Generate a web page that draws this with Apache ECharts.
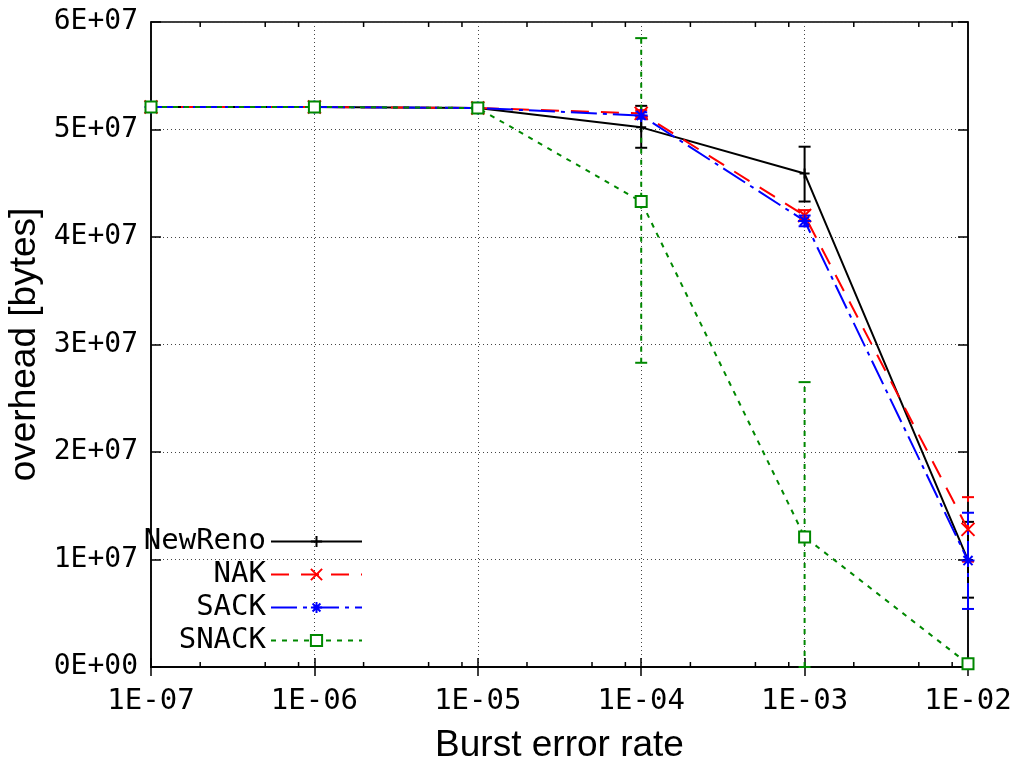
<!DOCTYPE html>
<html>
<head>
<meta charset="utf-8">
<script src="https://cdn.jsdelivr.net/npm/echarts@6/dist/echarts.min.js"></script>
<style>
  html, body { margin: 0; padding: 0; background: #fff; }
  #overhead-chart { width: 1017px; height: 764px; }
</style>
</head>
<body>
<div id="overhead-chart"></div>
<script>
// burst error rates (x, log axis)
const errorRates = [1e-7, 1e-6, 1e-5, 1e-4, 1e-3, 1e-2];
const minorTickRates = [2e-7, 5e-7, 8e-7, 2e-6, 5e-6, 8e-6, 2e-5, 5e-5, 8e-5, 2e-4, 5e-4, 8e-4, 2e-3, 5e-3, 8e-3];
const yTicks = [0, 1e7, 2e7, 3e7, 4e7, 5e7, 6e7];

// overhead [bytes], mean and error bar low/high
const newRenoMean = [5.21e7, 5.21e7, 5.20e7, 5.02e7, 4.59e7, 0.995e7];
const newRenoLow  = [5.20e7, 5.20e7, 5.19e7, 4.83e7, 4.33e7, 0.645e7];
const newRenoHigh = [5.22e7, 5.22e7, 5.21e7, 5.22e7, 4.84e7, 1.35e7];

const nakMean = [5.21e7, 5.21e7, 5.20e7, 5.15e7, 4.20e7, 1.28e7];
const nakLow  = [5.20e7, 5.20e7, 5.19e7, 5.12e7, 4.15e7, 0.98e7];
const nakHigh = [5.22e7, 5.22e7, 5.21e7, 5.18e7, 4.25e7, 1.58e7];

const sackMean = [5.21e7, 5.21e7, 5.20e7, 5.13e7, 4.15e7, 0.99e7];
const sackLow  = [5.20e7, 5.20e7, 5.19e7, 5.10e7, 4.10e7, 0.54e7];
const sackHigh = [5.22e7, 5.22e7, 5.21e7, 5.16e7, 4.20e7, 1.435e7];

const snackMean = [5.21e7, 5.21e7, 5.20e7, 4.33e7, 1.21e7, 0.03e7];
const snackLow  = [5.20e7, 5.20e7, 5.19e7, 2.83e7, 0, 0.01e7];
const snackHigh = [5.22e7, 5.22e7, 5.21e7, 5.85e7, 2.65e7, 0.05e7];

const monoFont = '"DejaVu Sans Mono", monospace';
const sansFont = '"Liberation Sans", Arial, sans-serif';

const seriesDefs = [
  { name: 'NewReno', color: '#000000', dash: 'solid', mean: newRenoMean, low: newRenoLow, high: newRenoHigh,
    symbol: 'path://M5,0L5,10M0,5L10,5', symbolSize: 10, fill: '#000000' },
  { name: 'NAK', color: '#ff0000', dash: [18, 12], mean: nakMean, low: nakLow, high: nakHigh,
    symbol: 'path://M0,0L10,10M10,0L0,10', symbolSize: 13, fill: '#ff0000' },
  { name: 'SACK', color: '#0000ff', dash: [26, 6, 4, 6], mean: sackMean, low: sackLow, high: sackHigh,
    symbol: 'path://M5,0L5,10M0,5L10,5M1.5,1.5L8.5,8.5M8.5,1.5L1.5,8.5', symbolSize: 13, fill: '#0000ff' },
  { name: 'SNACK', color: '#008800', dash: [5, 6], mean: snackMean, low: snackLow, high: snackHigh,
    symbol: 'rect', symbolSize: 11, fill: '#ffffff' },
];

function fmtX(v) {
  const e = -Math.round(Math.log10(v));
  return '1E-' + String(e).padStart(2, '0');
}
function fmtY(v) {
  if (v === 0) return '0E+00';
  return Math.round(v / 1e7) + 'E+07';
}

const myChart = echarts.init(document.getElementById('overhead-chart'));

const series = [];
seriesDefs.forEach((d) => {
  series.push({
    name: d.name + ' err',
    type: 'custom',
    coordinateSystem: 'cartesian2d',
    silent: true,
    z: 2,
    data: errorRates.map((x, i) => [x, d.low[i], d.high[i]]),
    encode: { x: 0, y: [1, 2] },
    renderItem: (params, api) => {
      const x = api.value(0);
      const lo = api.coord([x, api.value(1)]);
      const hi = api.coord([x, api.value(2)]);
      const style = { stroke: d.color, lineWidth: 2, fill: null };
      const barStyle = { stroke: d.color, lineWidth: 2, fill: null,
        lineDash: d.dash === 'solid' ? null : d.dash };
      return {
        type: 'group',
        children: [
          { type: 'line', shape: { x1: lo[0], y1: lo[1], x2: hi[0], y2: hi[1] }, style: barStyle },
          { type: 'line', shape: { x1: lo[0] - 6, y1: lo[1], x2: lo[0] + 6, y2: lo[1] }, style },
          { type: 'line', shape: { x1: hi[0] - 6, y1: hi[1], x2: hi[0] + 6, y2: hi[1] }, style },
        ],
      };
    },
  });
  series.push({
    name: d.name,
    type: 'line',
    z: 3,
    data: errorRates.map((x, i) => [x, d.mean[i]]),
    symbol: d.symbol,
    symbolSize: d.symbolSize,
    showAllSymbol: true,
    lineStyle: { color: d.color, width: 2, type: d.dash },
    itemStyle: { color: d.fill, borderColor: d.color, borderWidth: 2 },
    emphasis: { disabled: true },
  });
});

// minor log ticks (2, 5, 8) on bottom and top
series.push({
  name: 'minor ticks',
  type: 'custom',
  coordinateSystem: 'cartesian2d',
  silent: true,
  data: minorTickRates.map((x) => [x, 0]),
  renderItem: (params, api) => {
    const x = api.value(0);
    const b = api.coord([x, 0]);
    const t = api.coord([x, 6e7]);
    const style = { stroke: '#000', lineWidth: 1.5 };
    return {
      type: 'group',
      children: [
        { type: 'line', shape: { x1: b[0], y1: b[1], x2: b[0], y2: b[1] - 5 }, style },
        { type: 'line', shape: { x1: t[0], y1: t[1], x2: t[0], y2: t[1] + 5 }, style },
      ],
    };
  },
});

const legends = seriesDefs.map((d, i) => ({
  data: [d.name],
  right: 649,
  top: 522 + i * 33,
  align: 'right',
  itemWidth: 91,
  itemHeight: 14,
  selectedMode: false,
  textStyle: { fontFamily: monoFont, fontSize: 29, color: '#000' },
}));

const options = {
  animation: false,
  backgroundColor: '#fff',
  grid: {
    left: 151, right: 49, top: 22, bottom: 97,
    containLabel: false,
    outerBoundsMode: 'none',
    show: true, borderColor: '#000', borderWidth: 1.5,
  },
  legend: legends,
  xAxis: [
    {
      type: 'log',
      logBase: 10,
      min: errorRates[0],
      max: errorRates[errorRates.length - 1],
      name: 'Burst error rate',
      nameLocation: 'middle',
      nameGap: 60,
      nameTextStyle: { fontFamily: sansFont, fontSize: 37, color: '#000' },
      axisLine: { lineStyle: { color: '#000', width: 1.5 } },
      axisTick: { inside: true, length: 9, lineStyle: { color: '#000', width: 1.5 } },
      axisLabel: { formatter: fmtX, fontFamily: monoFont, fontSize: 29, color: '#000', margin: 20 },
      splitLine: { show: true, lineStyle: { color: '#444', width: 1, type: [1, 3] } },
    },
    {
      type: 'log',
      logBase: 10,
      position: 'top',
      min: errorRates[0],
      max: errorRates[errorRates.length - 1],
      axisLine: { lineStyle: { color: '#000', width: 1.5 } },
      axisTick: { inside: true, length: 9, lineStyle: { color: '#000', width: 1.5 } },
      axisLabel: { show: false },
      splitLine: { show: false },
    },
  ],
  yAxis: [
    {
      type: 'value',
      min: yTicks[0],
      max: yTicks[yTicks.length - 1],
      interval: 1e7,
      name: 'overhead [bytes]',
      nameLocation: 'middle',
      nameGap: 101,
      nameTextStyle: { fontFamily: sansFont, fontSize: 37, color: '#000' },
      axisLine: { show: true, lineStyle: { color: '#000', width: 1.5 } },
      axisTick: { show: true, inside: true, length: 10, lineStyle: { color: '#000', width: 1.5 } },
      axisLabel: { formatter: fmtY, fontFamily: monoFont, fontSize: 28, color: '#000', margin: 13 },
      splitLine: { show: true, lineStyle: { color: '#444', width: 1, type: [1, 3] } },
    },
    {
      type: 'value',
      position: 'right',
      min: yTicks[0],
      max: yTicks[yTicks.length - 1],
      interval: 1e7,
      axisLine: { show: true, lineStyle: { color: '#000', width: 1.5 } },
      axisTick: { show: true, inside: true, length: 10, lineStyle: { color: '#000', width: 1.5 } },
      axisLabel: { show: false },
      splitLine: { show: false },
    },
  ],
  series: series,
};
myChart.setOption(options);
</script>
</body>
</html>
